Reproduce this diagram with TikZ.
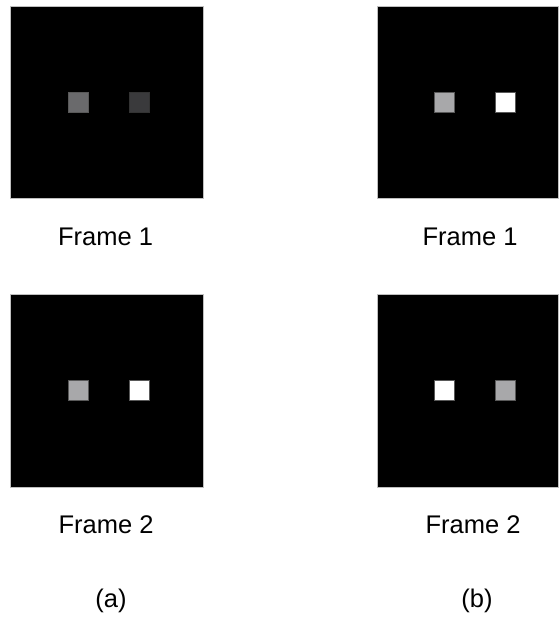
\documentclass[tikz,border=0pt]{standalone}
\usepackage{fontspec}
\setmainfont{Liberation Sans}
\begin{document}
\begin{tikzpicture}[x=1pt,y=-1pt,
  framebox/.style={fill=black,draw=gray!50,line width=0.6pt},
  sq/.style={draw=gray!70!black,line width=0.6pt},
  lbl/.style={font=\fontsize{25.5}{30}\selectfont,inner sep=0pt}]
\useasboundingbox (0,0) rectangle (558,618);
% frames
\path[framebox] (10,6) rectangle (203,198);
\path[framebox] (377,6) rectangle (558,198);
\path[framebox] (10,294) rectangle (203,487);
\path[framebox] (377,294) rectangle (558,487);
% squares frame a1
\path[sq,fill={rgb,255:red,106;green,106;blue,108}] (68,92) rectangle (88,112);
\path[sq,draw=black!80,fill={rgb,255:red,58;green,58;blue,60}] (129,92) rectangle (149,112);
% frame b1
\path[sq,fill={rgb,255:red,168;green,168;blue,170}] (434,92) rectangle (454,112);
\path[sq,fill=white] (495,92) rectangle (515,112);
% frame a2
\path[sq,fill={rgb,255:red,168;green,168;blue,170}] (68,380) rectangle (88,400);
\path[sq,fill=white] (129,380) rectangle (149,400);
% frame b2
\path[sq,fill=white] (434,380) rectangle (454,400);
\path[sq,fill={rgb,255:red,168;green,168;blue,170}] (495,380) rectangle (515,400);
% labels
\node[lbl] (fa1) at (105.5,237) {Frame 1};
\node[lbl] (fb1) at (470,237) {Frame 1};
\node[lbl] (fa2) at (106,525) {Frame 2};
\node[lbl] (fb2) at (473,525) {Frame 2};
\node[lbl] (la) at (111,601) {(a)};
\node[lbl] (lb) at (477,601) {(b)};
\end{tikzpicture}
\end{document}
